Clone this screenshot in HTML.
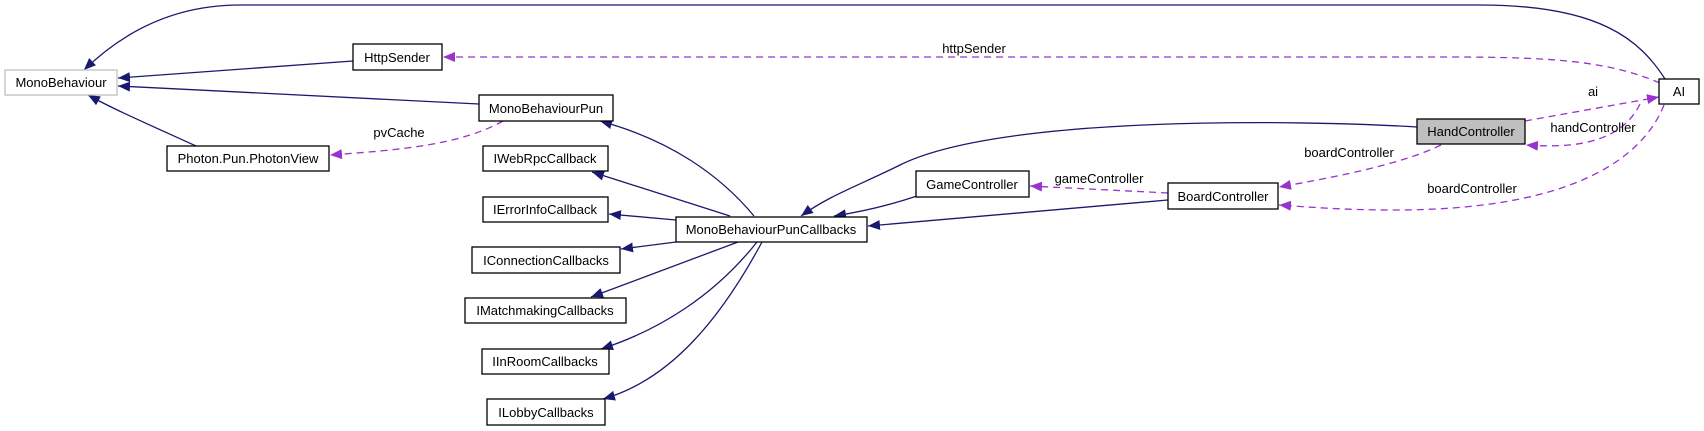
<!DOCTYPE html>
<html><head><meta charset="utf-8"><style>
html,body{margin:0;padding:0;background:#fff;}
svg{display:block;}
text{font-family:"Liberation Sans",Arial,sans-serif;font-size:13px;fill:#000;}
.n{fill:#fff;stroke:#000;stroke-width:1.3;}
.s{fill:none;stroke:#191970;stroke-width:1.3;}
.d{fill:none;stroke:#9a32cd;stroke-width:1.3;stroke-dasharray:7,5;}
</style></head><body>
<svg width="1704" height="431" viewBox="0 0 1704 431" xmlns="http://www.w3.org/2000/svg">
<defs>
<marker id="a" viewBox="0 0 12 10" refX="12" refY="5" markerWidth="12" markerHeight="10" markerUnits="userSpaceOnUse" orient="auto"><path d="M0,0L12,5L0,10z" fill="#191970"/></marker>
<marker id="p" viewBox="0 0 12 10" refX="12" refY="5" markerWidth="12" markerHeight="10" markerUnits="userSpaceOnUse" orient="auto"><path d="M0,0L12,5L0,10z" fill="#9a32cd"/></marker>
</defs>
<!-- solid edges -->
<path class="s" marker-end="url(#a)" d="M1665,79 C1640,40 1600,5 1480,5 L240,5 C170,5 120,35 84,70"/>
<path class="s" marker-end="url(#a)" d="M353,61 L118,78"/>
<path class="s" marker-end="url(#a)" d="M479,104 L118,86"/>
<path class="s" marker-end="url(#a)" d="M196,146 C150,125 115,110 88,95"/>
<path class="s" marker-end="url(#a)" d="M754,216 C720,175 670,140 600,121"/>
<path class="s" marker-end="url(#a)" d="M730,216 L592,172"/>
<path class="s" marker-end="url(#a)" d="M676,220 L609,214"/>
<path class="s" marker-end="url(#a)" d="M676,242 L621,249"/>
<path class="s" marker-end="url(#a)" d="M738,242 L591,297"/>
<path class="s" marker-end="url(#a)" d="M757,242 C715,295 660,330 601,349"/>
<path class="s" marker-end="url(#a)" d="M762,242 C720,320 670,380 603,399"/>
<path class="s" marker-end="url(#a)" d="M917,196 C890,205 860,212 834,216"/>
<path class="s" marker-end="url(#a)" d="M1168,200 L868,226"/>
<path class="s" marker-end="url(#a)" d="M1417,127 C1300,120 1000,115 900,165 C860,185 830,195 801,216"/>
<!-- dashed edges -->
<path class="d" marker-end="url(#p)" d="M1660,83 C1610,62 1560,57 1450,57 L443,57"/>
<path class="d" marker-end="url(#p)" d="M503,121 C460,145 400,150 330,155"/>
<path class="d" marker-end="url(#p)" d="M1525,121 L1659,97"/>
<path class="d" marker-end="url(#p)" d="M1640,104 C1620,145 1570,148 1526,145"/>
<path class="d" marker-end="url(#p)" d="M1441,145 C1400,165 1330,178 1279,187"/>
<path class="d" marker-end="url(#p)" d="M1664,105 C1640,165 1560,210 1395,210 C1340,210 1310,207 1279,205"/>
<path class="d" marker-end="url(#p)" d="M1168,193 L1030,186"/>
<!-- nodes -->
<rect x="5" y="70" width="112" height="25" fill="#fff" stroke="#bfbfbf" stroke-width="1.3"/><text x="61" y="87" text-anchor="middle">MonoBehaviour</text>
<rect class="n" x="353" y="44" width="89" height="26"/><text x="397" y="62" text-anchor="middle">HttpSender</text>
<rect class="n" x="479" y="95" width="134" height="26"/><text x="546" y="113" text-anchor="middle">MonoBehaviourPun</text>
<rect class="n" x="167" y="146" width="162" height="25"/><text x="248" y="163" text-anchor="middle">Photon.Pun.PhotonView</text>
<rect class="n" x="483" y="146" width="125" height="25"/><text x="545" y="163" text-anchor="middle">IWebRpcCallback</text>
<rect class="n" x="483" y="197" width="125" height="25"/><text x="545" y="214" text-anchor="middle">IErrorInfoCallback</text>
<rect class="n" x="472" y="247" width="148" height="26"/><text x="546" y="265" text-anchor="middle">IConnectionCallbacks</text>
<rect class="n" x="465" y="298" width="161" height="25"/><text x="545" y="315" text-anchor="middle">IMatchmakingCallbacks</text>
<rect class="n" x="482" y="349" width="127" height="25"/><text x="545" y="366" text-anchor="middle">IInRoomCallbacks</text>
<rect class="n" x="487" y="399" width="118" height="26"/><text x="546" y="417" text-anchor="middle">ILobbyCallbacks</text>
<rect class="n" x="676" y="217" width="191" height="25"/><text x="771" y="234" text-anchor="middle">MonoBehaviourPunCallbacks</text>
<rect class="n" x="916" y="171" width="113" height="26"/><text x="972" y="189" text-anchor="middle">GameController</text>
<rect class="n" x="1168" y="183" width="110" height="26"/><text x="1223" y="201" text-anchor="middle">BoardController</text>
<rect x="1417" y="119" width="108" height="25" fill="#bfbfbf" stroke="#000" stroke-width="1.3"/><text x="1471" y="136" text-anchor="middle">HandController</text>
<rect class="n" x="1659" y="79" width="40" height="25"/><text x="1679" y="96" text-anchor="middle">AI</text>
<!-- labels -->
<text x="974" y="53" text-anchor="middle">httpSender</text>
<text x="399" y="137" text-anchor="middle">pvCache</text>
<text x="1593" y="96" text-anchor="middle">ai</text>
<text x="1593" y="132" text-anchor="middle">handController</text>
<text x="1349" y="157" text-anchor="middle">boardController</text>
<text x="1099" y="183" text-anchor="middle">gameController</text>
<text x="1472" y="193" text-anchor="middle">boardController</text>
</svg>
</body></html>
